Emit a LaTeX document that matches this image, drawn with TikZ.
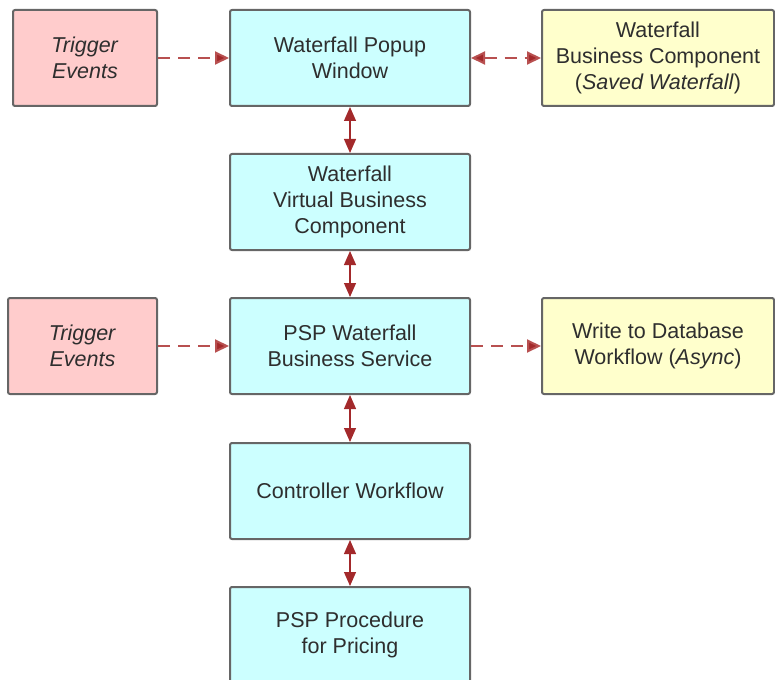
\documentclass[tikz,border=0pt]{standalone}
\usepackage{fontspec}
\setmainfont{Liberation Sans}
\usetikzlibrary{arrows.meta}
\definecolor{boxline}{HTML}{666666}
\definecolor{txtgray}{HTML}{2E2E2E}
\definecolor{pinkfill}{HTML}{FFCCCC}
\definecolor{cyanfill}{HTML}{CCFFFF}
\definecolor{yellowfill}{HTML}{FFFFCC}
\definecolor{arrowred}{HTML}{A3292B}
\definecolor{linered}{HTML}{B85050}
\tikzset{
  box/.style={draw=boxline, line width=2pt, rounded corners=2pt, align=center,
    text=txtgray, font=\fontsize{21.5}{26}\selectfont,
    minimum height=96pt, inner sep=0pt},
  mainbox/.style={box, fill=cyanfill, minimum width=240pt},
  trigbox/.style={box, fill=pinkfill},
  sidebox/.style={box, fill=yellowfill, minimum width=232pt},
  link/.style={draw=linered, line width=1.2pt, arrowred,
    {Triangle[length=14pt,width=12pt]}-{Triangle[length=14pt,width=12pt]}},
  event/.style={draw=linered, line width=2pt, dash pattern=on 12pt off 8pt,
    -{Triangle[length=14pt,width=13pt,fill=arrowred]}},
}
\begin{document}
\begin{tikzpicture}[x=1pt,y=1pt]
      \useasboundingbox (0,0) rectangle (775,-679);
      \node[trigbox, minimum width=144pt] (te1) at (85,-58) {\textit{Trigger}\\\textit{Events}};
      \node[mainbox] (popup) at (350,-58) {Waterfall Popup\\Window};
      \node[sidebox] (savedbc) at (658,-58) {Waterfall\\Business Component\\(\textit{Saved Waterfall})};
      \node[mainbox] (vbc) at (350,-202) {Waterfall\\Virtual Business\\Component};
      \node[trigbox, minimum width=149pt] (te2) at (82.5,-346) {\textit{Trigger}\\\textit{Events}};
      \node[mainbox] (pspbs) at (350,-346) {PSP Waterfall\\Business Service};
      \node[sidebox] (dbwf) at (658,-346) {Write to Database\\Workflow (\textit{Async})};
      \node[mainbox] (ctrl) at (350,-491) {Controller Workflow};
      \node[mainbox] (proc) at (350,-635) {PSP Procedure\\for Pricing};
      % event triggers
      \draw [event] (te1) -- (popup);
      \draw [event] (te2) -- (pspbs);
      \draw [event] (pspbs) -- (dbwf);
      \draw [event, {Triangle[length=14pt,width=13pt,fill=arrowred]}-{Triangle[length=14pt,width=13pt,fill=arrowred]}] (popup) -- (savedbc);
      % main chain
      \draw [link] (popup) -- (vbc);
      \draw [link] (vbc) -- (pspbs);
      \draw [link] (pspbs) -- (ctrl);
      \draw [link] (ctrl) -- (proc);
    \end{tikzpicture}
\end{document}
